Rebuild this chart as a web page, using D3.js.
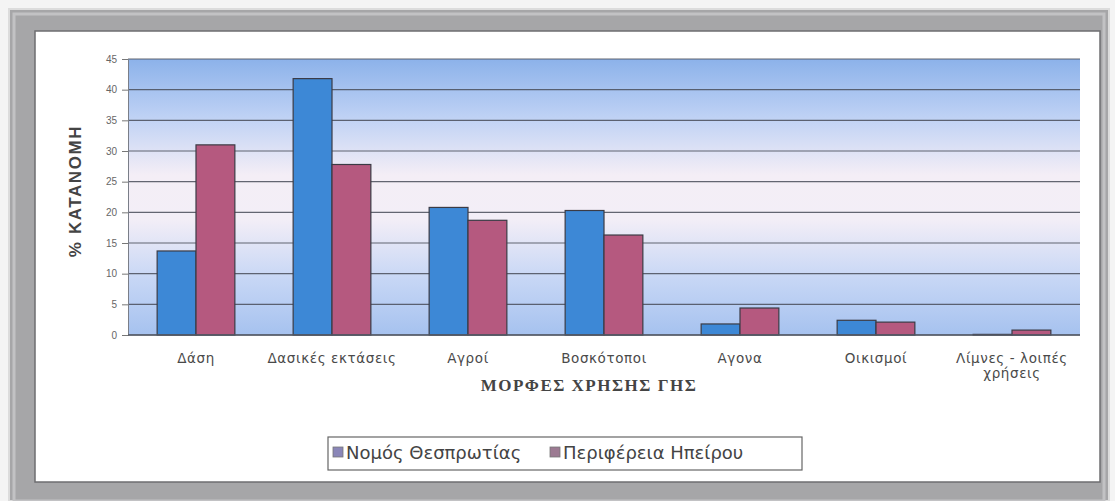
<!DOCTYPE html>
<html>
<head>
<meta charset="utf-8">
<script src="https://cdn.jsdelivr.net/npm/d3@7"></script>
<style>
  html, body { margin: 0; padding: 0; background: #ffffff; }
  svg { display: block; }
</style>
</head>
<body>
<svg id="chart" width="1115" height="501"></svg>
<script>
const categories = [["Δάση"], ["Δασικές εκτάσεις"], ["Αγροί"], ["Βοσκότοποι"], ["Αγονα"], ["Οικισμοί"], ["Λίμνες - λοιπές", "χρήσεις"]];
const seriesNames = ["Νομός Θεσπρωτίας", "Περιφέρεια Ηπείρου"];
const thesprotia = [13.7, 41.8, 20.8, 20.3, 1.8, 2.4, 0.1];
const epirus = [31.0, 27.8, 18.7, 16.3, 4.4, 2.1, 0.8];
const yTicks = [0, 5, 10, 15, 20, 25, 30, 35, 40, 45];
const barColors = ["#3d88d6", "#b5597f"];
const legendColors = ["#8a86b8", "#9c7a92"];
const yTitle = "% ΚΑΤΑΝΟΜΗ";
const xTitle = "ΜΟΡΦΕΣ ΧΡΗΣΗΣ ΓΗΣ";

const svg = d3.select("#chart");
const W = 1115, H = 501;

// Frame
svg.append("rect").attr("x", 0).attr("y", 0).attr("width", W).attr("height", H).attr("fill", "#f4f4f4");
svg.append("rect").attr("x", 9).attr("y", 9).attr("width", 1100).attr("height", 492).attr("fill", "#a6a6a8")
  .attr("stroke", "#dcdcdc").attr("stroke-width", 2);
svg.append("rect").attr("x", 14).attr("y", 14).attr("width", 1090).attr("height", 487).attr("fill", "none")
  .attr("stroke", "#c2c2c4").attr("stroke-width", 3);
svg.append("rect").attr("x", 35).attr("y", 31).attr("width", 1065).attr("height", 451).attr("fill", "#ffffff")
  .attr("stroke", "#6e6e70").attr("stroke-width", 1.5);

const plot = { left: 128, right: 1080, top: 59, bottom: 335 };

const defs = svg.append("defs");
const grad = defs.append("linearGradient").attr("id", "bg").attr("x1", 0).attr("y1", 0).attr("x2", 0).attr("y2", 1);
[[0, "#8cb2ea"], [0.2, "#bcd0f4"], [0.42, "#f4eef6"], [0.58, "#f3eef7"], [0.8, "#c6d6f5"], [1, "#a6c2ef"]]
  .forEach(([o, c]) => grad.append("stop").attr("offset", o).attr("stop-color", c));

const x0 = d3.scaleBand().domain(d3.range(categories.length)).range([plot.left, plot.right]).paddingInner(0).paddingOuter(0);
const x1 = d3.scaleBand().domain([0, 1]).range([0, x0.bandwidth()]).paddingInner(0).paddingOuter(0.75);
const y = d3.scaleLinear().domain([0, 45]).range([plot.bottom, plot.top]);

svg.append("rect").attr("x", plot.left).attr("y", plot.top).attr("width", plot.right - plot.left)
  .attr("height", plot.bottom - plot.top).attr("fill", "url(#bg)");

// gridlines
svg.append("g").selectAll("line").data(yTicks).join("line")
  .attr("x1", plot.left).attr("x2", plot.right)
  .attr("y1", d => y(d)).attr("y2", d => y(d))
  .attr("stroke", "#4a4e5a").attr("stroke-width", 1.1).attr("opacity", 0.85);

// y axis
const yAxis = d3.axisLeft(y).tickValues(yTicks).tickSize(6).tickPadding(5);
const gy = svg.append("g").attr("transform", `translate(${plot.left},0)`).call(yAxis);
gy.select(".domain").attr("stroke", "#7a7e88");
gy.selectAll(".tick line").attr("stroke", "#777");
gy.selectAll(".tick text").attr("font-family", "Liberation Sans, Arial, sans-serif").attr("font-size", 10).attr("fill", "#666");

// bars
const data = categories.map((c, i) => [thesprotia[i], epirus[i]]);
const groups = svg.append("g").selectAll("g").data(data).join("g")
  .attr("transform", (d, i) => `translate(${x0(i)},0)`);
groups.selectAll("rect").data(d => d.map((v, s) => ({ v, s }))).join("rect")
  .attr("x", d => x1(d.s)).attr("width", x1.bandwidth())
  .attr("y", d => y(d.v)).attr("height", d => y(0) - y(d.v))
  .attr("fill", d => barColors[d.s]).attr("stroke", "#3b3b45").attr("stroke-width", 1.2);

// x axis line
svg.append("line").attr("x1", plot.left).attr("x2", plot.right).attr("y1", plot.bottom).attr("y2", plot.bottom)
  .attr("stroke", "#555a66").attr("stroke-width", 1.5);

// category labels
const labels = svg.append("g").selectAll("text").data(categories).join("text")
  .attr("x", (d, i) => x0(i) + x0.bandwidth() / 2)
  .attr("y", 363)
  .attr("text-anchor", "middle")
  .attr("font-family", "DejaVu Sans, Verdana, sans-serif").attr("font-size", 13.5)
  .attr("letter-spacing", 0.6).attr("fill", "#4a4a4a");
labels.selectAll("tspan").data(d => d).join("tspan")
  .attr("x", function () { return d3.select(this.parentNode).attr("x"); })
  .attr("dy", (d, i) => i === 0 ? 0 : 15)
  .text(d => d);

// axis titles
svg.append("text").attr("transform", "translate(81,191) rotate(-90)").attr("text-anchor", "middle")
  .attr("font-family", "Liberation Sans, Arial, sans-serif").attr("font-weight", "bold").attr("font-size", 17)
  .attr("letter-spacing", 1.6).attr("fill", "#444").text(yTitle);
svg.append("text").attr("x", 589).attr("y", 391).attr("text-anchor", "middle")
  .attr("font-family", "Liberation Serif, Times New Roman, serif").attr("font-weight", "bold").attr("font-size", 17)
  .attr("letter-spacing", 1.5).attr("fill", "#444").text(xTitle);

// legend
const lg = svg.append("g");
lg.append("rect").attr("x", 328).attr("y", 437).attr("width", 474).attr("height", 33)
  .attr("fill", "#ffffff").attr("stroke", "#666").attr("stroke-width", 1.2);
const items = lg.selectAll("g").data(seriesNames).join("g")
  .attr("transform", (d, i) => `translate(${i === 0 ? 333 : 550},0)`);
items.append("rect").attr("x", 0).attr("y", 447).attr("width", 10).attr("height", 10)
  .attr("fill", (d, i) => legendColors[i]).attr("stroke", "#777").attr("stroke-width", 0.8);
items.append("text").attr("x", 13).attr("y", 459)
  .attr("font-family", "DejaVu Sans, Verdana, sans-serif").attr("font-size", 18).attr("fill", "#444")
  .text(d => d);
</script>
</body>
</html>
